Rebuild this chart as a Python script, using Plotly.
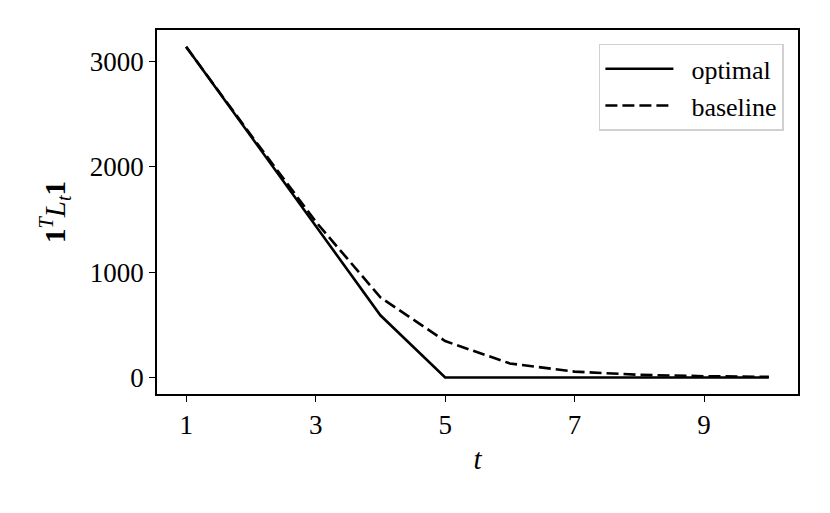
import plotly.graph_objects as go

# step index
t = [1, 2, 3, 4, 5, 6, 7, 8, 9, 10]

# 1^T L_t 1 for each policy
optimal = [3137, 2290, 1440, 590, 0, 0, 0, 0, 0, 0]
baseline = [3137, 2300, 1480, 760, 345, 133, 55, 25, 12, 6]

x_ticks = [1, 3, 5, 7, 9]
y_ticks = [0, 1000, 2000, 3000]

FONT = "Liberation Serif"
PAD = "\u00a0\u00a0"  # gap between legend line and its label

fig = go.Figure()

fig.add_trace(go.Scatter(
    x=t, y=optimal, mode="lines", name=PAD + "optimal",
    line=dict(color="black", width=2.6)
))
fig.add_trace(go.Scatter(
    x=t, y=baseline, mode="lines", name=PAD + "baseline",
    line=dict(color="black", width=2.6, dash="12px,5px")
))

axis_common = dict(
    showgrid=False, zeroline=False,
    showline=True, linecolor="black", linewidth=1.5, mirror=True,
    ticks="outside", ticklen=6, tickwidth=1.3, tickcolor="black",
    tickfont=dict(family=FONT, size=27, color="black"),
)

fig.update_xaxes(
    range=[0.55, 10.45], tickvals=x_ticks,
    title=dict(text="<i>t</i>", font=dict(family=FONT, size=29, color="black"), standoff=10),
    **axis_common
)
fig.update_yaxes(
    range=[-157, 3297], tickvals=y_ticks,
    title=dict(text="<b>1</b><sup><i>T</i></sup><i>L</i><sub><i>t</i></sub><b>1</b>",
               font=dict(family=FONT, size=29, color="black"), standoff=16),
    **axis_common
)

# page body keeps its 8px margin, so the figure is sized to fit the window
fig.update_layout(
    width=822, height=505,
    margin=dict(l=149, r=32, t=22, b=119),
    plot_bgcolor="white", paper_bgcolor="white",
    font=dict(family=FONT, color="black"),
    legend=dict(
        x=0.978, y=0.962, xanchor="right", yanchor="top",
        bgcolor="white", bordercolor="#d0d0d0", borderwidth=1.5,
        font=dict(family=FONT, size=26, color="black"),
        itemwidth=68,
        tracegroupgap=5,
    ),
)

fig.write_html("out.html")
